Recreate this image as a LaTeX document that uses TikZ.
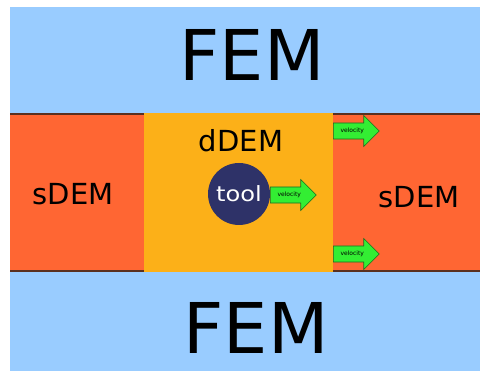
\documentclass[tikz,border=0pt]{standalone}
\usepackage{fontspec}
\setmainfont{DejaVu Sans}
\usetikzlibrary{shapes.arrows}
\definecolor{femblue}{HTML}{99CCFF}
\definecolor{sdemred}{HTML}{FF6633}
\definecolor{ddemyel}{HTML}{FCB018}
\definecolor{edgebrown}{HTML}{5A3020}
\definecolor{toolnavy}{HTML}{2E3268}
\definecolor{velgreen}{HTML}{33EE33}
\definecolor{veledge}{HTML}{1F6A1F}
\tikzset{
  sdem/.style={fill=sdemred},
  bandedge/.style={draw=edgebrown, line width=1.2pt},
  ddem/.style={fill=ddemyel},
  biglabel/.style={font=\fontsize{70}{70}\selectfont, text=black, inner sep=0pt},
  midlabel/.style={font=\fontsize{29}{29}\selectfont, text=black, inner sep=0pt},
  velarrow/.style={single arrow, draw=veledge, fill=velgreen, line width=0.6pt,
    single arrow head extend=7.5pt, minimum height=46pt, minimum width=30pt,
    inner xsep=1.5pt, inner ysep=4.8pt, anchor=tail,
    font=\fontsize{6}{6}\selectfont, text=black},
  toolball/.style={circle, fill=toolnavy, minimum size=62pt, inner sep=0pt,
    text=white, font=\fontsize{21}{21}\selectfont}
}
\begin{document}
\begin{tikzpicture}[x=1pt, y=-1pt]
\useasboundingbox (0,0) rectangle (480,371);
\fill[white] (0,0) rectangle (480,371);
% FEM background
\fill[femblue] (10,7) rectangle (480,371);
% sDEM regions
\fill[sdem] (10,114) rectangle (144,271);
\fill[sdem] (333,114) rectangle (480,271);
\draw[bandedge] (10,114) -- (144,114);
\draw[bandedge] (10,271) -- (144,271);
\draw[bandedge] (333,114) -- (480,114);
\draw[bandedge] (333,271) -- (480,271);
% dDEM region
\fill[ddem] (144,113.4) rectangle (333,271.6);
% labels
\node[biglabel] (femtop) at (252,55) {FEM};
\node[biglabel] (fembot) at (256,328) {FEM};
\node[midlabel] (sdemleft) at (73,194) {sDEM};
\node[midlabel] (sdemright) at (419,197) {sDEM};
\node[midlabel] (ddem) at (241,141) {dDEM};
% tool
\node[toolball] (tool) at (239,194) {\scalebox{1.15}[1]{tool}};
% velocity arrows
\coordinate (vtool) at (270,195);
\coordinate (vtop) at (333,131);
\coordinate (vbot) at (333,254);
\node[velarrow] (arrtool) at (vtool) {velocity};
\node[velarrow] (arrtop) at (vtop) {velocity};
\node[velarrow] (arrbot) at (vbot) {velocity};
\end{tikzpicture}
\end{document}
